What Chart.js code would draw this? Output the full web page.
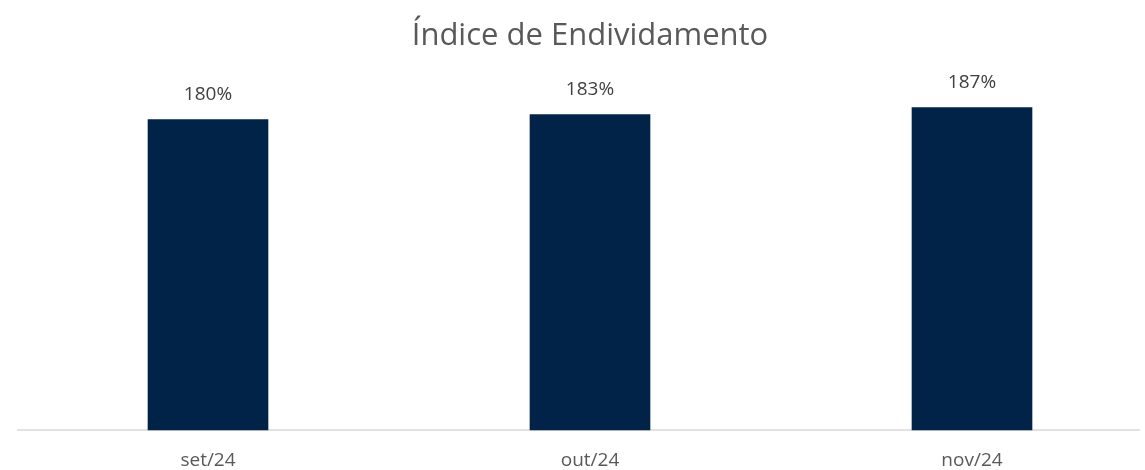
<!DOCTYPE html>
<html>
<head>
<meta charset="utf-8">
<script src="https://cdn.jsdelivr.net/npm/chart.js@4"></script>
<style>
  html, body { margin: 0; padding: 0; background: #fff; overflow: hidden; }
  #wrap { width: 1145px; height: 470px; }
</style>
</head>
<body>
<div id="wrap"><canvas id="endividamento"></canvas></div>
<script>
const categories = ['set/24', 'out/24', 'nov/24'];
const indiceValues = [180, 183, 187];
const chartTitle = 'Índice de Endividamento';

const FONT = "'Open Sans', 'Noto Sans', sans-serif";

// linha de base cinza que atravessa quase toda a largura
const baseLine = {
    id: 'baseLine',
    beforeDatasetsDraw(chart) {
        const ctx = chart.ctx;
        const y = chart.scales.y.getPixelForValue(0);
        ctx.save();
        ctx.strokeStyle = '#d9d9d9';
        ctx.lineWidth = 1.5;
        ctx.beginPath();
        ctx.moveTo(17, y);
        ctx.lineTo(1140, y);
        ctx.stroke();
        ctx.restore();
    },
};

// rótulos de valor acima das barras
const valueLabels = {
    id: 'valueLabels',
    afterDatasetsDraw(chart) {
        const ctx = chart.ctx;
        const meta = chart.getDatasetMeta(0);
        ctx.save();
        ctx.font = '19px ' + FONT;
        ctx.fillStyle = '#404040';
        ctx.textAlign = 'center';
        ctx.textBaseline = 'middle';
        meta.data.forEach((bar, i) => {
            ctx.fillText(indiceValues[i] + '%', bar.x, bar.y - 25);
        });
        ctx.restore();
    },
};

const ctx = document.getElementById('endividamento').getContext('2d');

const config = {
    type: 'bar',
    data: {
        labels: categories,
        datasets: [
            {
                label: chartTitle,
                data: indiceValues,
                backgroundColor: '#002347',
                barThickness: 120,
                clip: false,
            },
        ],
    },
    options: {
        responsive: true,
        maintainAspectRatio: false,
        animation: false,
        layout: {
            padding: { left: 208, right: 173, top: 0, bottom: 0 },
        },
        plugins: {
            legend: { display: false },
            tooltip: { enabled: false },
            title: {
                display: true,
                text: chartTitle,
                color: '#595959',
                font: { family: FONT, size: 31, weight: 'normal', lineHeight: 1.2 },
                padding: { top: 18, bottom: 30 },
            },
        },
        scales: {
            x: {
                offset: false,
                grid: {
                    display: true,
                    drawOnChartArea: false,
                    drawTicks: true,
                    tickLength: 21,
                    color: 'rgba(0,0,0,0)',
                },
                border: { display: false },
                ticks: {
                    color: '#595959',
                    font: { family: FONT, size: 19, lineHeight: 1 },
                    padding: 0,
                },
            },
            y: {
                display: false,
                min: 0,
                max: 200,
            },
        },
    },
    plugins: [baseLine, valueLabels],
};

const chart = new Chart(ctx, config);
</script>
</body>
</html>
